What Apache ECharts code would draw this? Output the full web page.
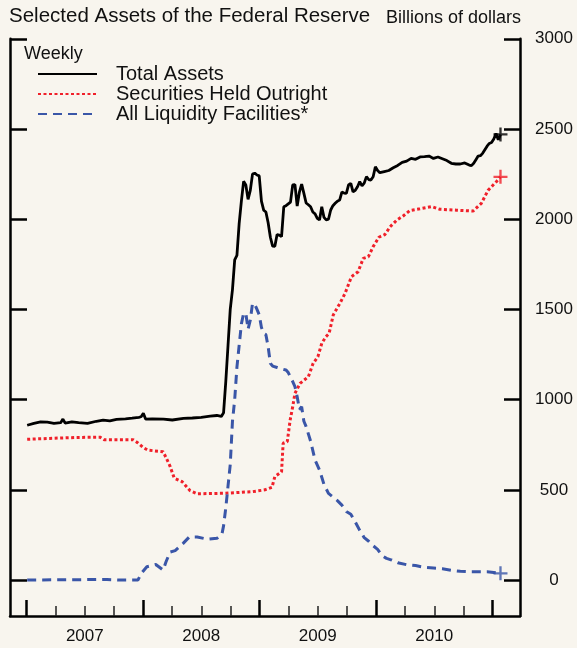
<!DOCTYPE html>
<html>
<head>
<meta charset="utf-8">
<script src="https://cdn.jsdelivr.net/npm/echarts@6/dist/echarts.min.js"></script>
<style>
  html, body { margin: 0; padding: 0; background: #f8f5ee; }
  #chart { width: 577px; height: 648px; }
</style>
</head>
<body>
<div id="chart"></div>
<script>
// weekly values, billions of dollars
var totalAssets = [
  ['2007-01-03',858],['2007-01-24',868],['2007-02-14',876],['2007-03-07',875],['2007-03-28',868],
  ['2007-04-18',872],['2007-04-25',892],['2007-05-02',870],['2007-05-23',877],['2007-06-13',872],
  ['2007-07-11',868],['2007-08-08',880],['2007-08-29',886],['2007-09-19',882],['2007-10-10',890],
  ['2007-11-07',893],['2007-11-28',897],['2007-12-19',902],['2007-12-26',905],['2008-01-02',924],
  ['2008-01-09',892],['2008-01-30',893],['2008-03-05',892],['2008-04-02',887],['2008-05-07',896],
  ['2008-06-04',898],['2008-07-02',902],['2008-07-30',908],['2008-08-20',912],['2008-09-03',907],
  ['2008-09-10',927],['2008-09-17',1100],['2008-09-24',1300],['2008-10-01',1500],['2008-10-08',1610],
  ['2008-10-15',1775],['2008-10-22',1800],['2008-10-29',1975],['2008-11-05',2100],['2008-11-12',2210],
  ['2008-11-19',2190],['2008-11-26',2110],['2008-12-03',2160],['2008-12-10',2250],['2008-12-17',2255],
  ['2008-12-24',2245],['2008-12-31',2240],['2009-01-07',2100],['2009-01-14',2050],['2009-01-21',2040],
  ['2009-01-28',1980],['2009-02-04',1900],['2009-02-11',1851],['2009-02-18',1850],['2009-02-25',1915],
  ['2009-03-04',1912],['2009-03-11',1903],['2009-03-18',2069],['2009-03-25',2075],['2009-04-01',2085],
  ['2009-04-08',2095],['2009-04-15',2190],['2009-04-22',2192],['2009-04-29',2073],['2009-05-06',2150],
  ['2009-05-13',2195],['2009-05-20',2143],['2009-05-27',2090],['2009-06-03',2080],['2009-06-10',2069],
  ['2009-06-17',2040],['2009-06-24',2030],['2009-07-01',2005],['2009-07-08',1996],['2009-07-15',2069],
  ['2009-07-22',2010],['2009-07-29',1996],['2009-08-05',2000],['2009-08-12',2051],['2009-08-19',2075],
  ['2009-08-26',2088],['2009-09-02',2100],['2009-09-09',2106],['2009-09-16',2150],['2009-09-23',2145],
  ['2009-09-30',2143],['2009-10-07',2190],['2009-10-14',2199],['2009-10-21',2152],['2009-10-28',2160],
  ['2009-11-04',2180],['2009-11-11',2208],['2009-11-18',2185],['2009-11-25',2200],['2009-12-02',2236],
  ['2009-12-09',2220],['2009-12-16',2217],['2009-12-23',2235],['2009-12-30',2291],['2010-01-06',2270],
  ['2010-01-13',2258],['2010-01-27',2264],['2010-02-10',2270],['2010-02-24',2285],['2010-03-10',2298],
  ['2010-03-24',2315],['2010-04-07',2322],['2010-04-21',2337],['2010-05-05',2332],['2010-05-19',2345],
  ['2010-06-02',2347],['2010-06-16',2350],['2010-06-30',2337],['2010-07-14',2345],['2010-07-28',2335],
  ['2010-08-11',2325],['2010-08-25',2310],['2010-09-08',2306],['2010-09-22',2306],['2010-10-06',2312],
  ['2010-10-20',2300],['2010-10-27',2297],['2010-11-03',2310],['2010-11-10',2330],['2010-11-17',2350],
  ['2010-11-24',2352],['2010-12-01',2365],['2010-12-08',2385],['2010-12-15',2405],['2010-12-22',2420],
  ['2010-12-29',2425],['2011-01-05',2445],['2011-01-12',2475],['2011-01-19',2440],['2011-01-26',2470]
];

var securities = [
  ['2007-01-03',780],['2007-03-15',785],['2007-06-02',790],['2007-08-19',792],['2007-09-01',778],
  ['2007-12-01',778],['2007-12-16',760],['2008-01-01',735],['2008-01-16',720],['2008-03-04',711],
  ['2008-03-13',680],['2008-03-26',630],['2008-04-08',565],['2008-05-03',545],['2008-05-28',495],
  ['2008-06-19',478],['2008-09-15',481],['2008-12-11',490],['2009-01-18',500],['2009-02-09',514],
  ['2009-02-18',573],['2009-03-11',600],['2009-03-16',758],['2009-03-29',767],['2009-04-07',887],
  ['2009-04-15',961],['2009-04-22',1035],['2009-05-08',1090],['2009-06-03',1127],['2009-06-18',1201],
  ['2009-07-03',1238],['2009-07-15',1312],['2009-07-28',1349],['2009-08-07',1367],['2009-08-20',1469],
  ['2009-09-10',1534],['2009-09-26',1589],['2009-10-16',1681],['2009-11-06',1709],['2009-11-22',1783],
  ['2009-12-08',1792],['2009-12-23',1848],['2010-01-10',1900],['2010-01-29',1915],['2010-02-14',1958],
  ['2010-03-07',1995],['2010-03-27',2018],['2010-04-17',2048],['2010-05-19',2058],['2010-06-24',2070],
  ['2010-07-20',2055],['2010-09-10',2050],['2010-11-01',2045],['2010-11-27',2088],['2010-12-18',2160],
  ['2011-01-13',2208],['2011-01-26',2235]
];

var liquidity = [
  ['2007-01-03',0],['2007-09-10',3],['2007-10-20',0],['2007-12-16',0],['2007-12-28',40],
  ['2008-01-13',74],['2008-02-10',86],['2008-03-04',55],['2008-03-13',100],['2008-03-26',155],
  ['2008-04-11',163],['2008-05-06',203],['2008-05-25',238],['2008-06-19',238],['2008-07-23',226],
  ['2008-08-20',231],['2008-09-05',255],['2008-09-10',300],['2008-09-17',400],['2008-09-24',520],
  ['2008-10-01',640],['2008-10-08',880],['2008-10-15',1000],['2008-10-22',1180],['2008-10-29',1300],
  ['2008-11-05',1420],['2008-11-12',1478],['2008-11-19',1478],['2008-11-26',1390],['2008-12-03',1440],
  ['2008-12-10',1534],['2008-12-17',1528],['2008-12-24',1500],['2008-12-31',1470],['2009-01-07',1400],
  ['2009-01-14',1367],['2009-01-21',1360],['2009-01-28',1293],['2009-02-04',1201],['2009-02-11',1186],
  ['2009-02-25',1178],['2009-03-11',1170],['2009-03-25',1164],['2009-04-01',1150],['2009-04-08',1125],
  ['2009-04-15',1100],['2009-04-22',1072],['2009-04-29',1016],['2009-05-06',945],['2009-05-13',960],
  ['2009-05-20',880],['2009-05-27',850],['2009-06-10',770],['2009-06-24',665],['2009-07-08',610],
  ['2009-07-22',530],['2009-08-05',480],['2009-08-19',460],['2009-09-02',440],['2009-09-16',415],
  ['2009-09-30',380],['2009-10-14',365],['2009-10-28',322],['2009-11-11',275],['2009-11-25',235],
  ['2009-12-09',215],['2009-12-23',190],['2010-01-06',170],['2010-01-20',135],['2010-02-03',120],
  ['2010-02-17',112],['2010-03-10',96],['2010-04-07',85],['2010-05-05',80],['2010-06-02',70],
  ['2010-06-30',66],['2010-07-28',62],['2010-08-25',54],['2010-09-22',48],['2010-10-20',46],
  ['2010-11-17',46],['2010-12-15',46],['2011-01-05',42],['2011-01-26',37]
];

var yearTicks = [2007, 2008, 2009, 2010, 2011];
var quarterTicks = [2007.25, 2007.5, 2007.75, 2008.25, 2008.5, 2008.75,
                    2009.25, 2009.5, 2009.75, 2010.25, 2010.5, 2010.75];
var yearLabels = [2007.5, 2008.5, 2009.5, 2010.5];
var valueTicks = [0, 500, 1000, 1500, 2000, 2500, 3000];

function toYear(s) {
  var p = s.split('-');
  var y = +p[0];
  var t = Date.UTC(y, +p[1] - 1, +p[2]);
  var a = Date.UTC(y, 0, 1), b = Date.UTC(y + 1, 0, 1);
  return y + (t - a) / (b - a);
}
function prep(arr) {
  return arr.map(function (d) { return [toYear(d[0]), d[1]]; });
}

var FONT = 'Liberation Sans, Arial, sans-serif';
var plus = 'path://M-1,-6H1V-1H6V1H1V6H-1V1H-6V-1H-1Z';
var xMin = 2006.858, xMax = 2011.236;

var chart = echarts.init(document.getElementById('chart'));

function lineSeries(name, arr, color, width, type) {
  return {
    name: name, type: 'line', data: prep(arr), symbol: 'none',
    lineStyle: { color: color, width: width, type: type },
    itemStyle: { color: color }
  };
}
function endMark(arr, color) {
  var d = prep(arr);
  return {
    type: 'scatter', data: [d[d.length - 1]], symbol: plus, symbolSize: 14,
    itemStyle: { color: color }, silent: true, z: 5
  };
}

chart.setOption({
  animation: false,
  backgroundColor: '#f8f5ee',
  textStyle: { fontFamily: FONT },
  title: [
    { text: 'Selected Assets of the Federal Reserve', left: 9, top: 6, padding: 0,
      textStyle: { fontSize: 20.5, fontWeight: 'normal', color: '#111', fontFamily: FONT } },
    { text: 'Billions of dollars', left: 386, top: 9, padding: 0,
      textStyle: { fontSize: 18, fontWeight: 'normal', color: '#111', fontFamily: FONT } },
    { text: 'Weekly', left: 24, top: 45, padding: 0,
      textStyle: { fontSize: 18, fontWeight: 'normal', color: '#111', fontFamily: FONT } }
  ],
  legend: {
    data: ['Total Assets', 'Securities Held Outright', 'All Liquidity Facilities*'],
    orient: 'vertical', left: 37, top: 64, padding: 0,
    itemWidth: 59, itemHeight: 12, itemGap: 0,
    itemStyle: { opacity: 0 },
    textStyle: { fontSize: 20, lineHeight: 19, color: '#111', fontFamily: FONT, padding: [0, 0, 0, 14] }
  },
  grid: { left: 10, right: 57, top: 38.8, bottom: 31.9 },
  xAxis: [
    {
      type: 'value', min: xMin, max: xMax, position: 'bottom', offset: 0,
      axisLine: { onZero: false, lineStyle: { color: '#000', width: 2.5 } },
      axisTick: { customValues: yearTicks, inside: true, length: 16, lineStyle: { color: '#000', width: 2.5 } },
      axisLabel: { customValues: yearLabels, formatter: function (v) { return String(Math.floor(v)); },
                   fontSize: 17, color: '#111', margin: 12, fontFamily: FONT },
      splitLine: { show: false }
    },
    {
      type: 'value', min: xMin, max: xMax, position: 'bottom', offset: 0,
      axisLine: { show: false, onZero: false },
      axisTick: { customValues: quarterTicks, inside: true, length: 10, lineStyle: { color: '#222', width: 1.5 } },
      axisLabel: { show: false },
      splitLine: { show: false }
    }
  ],
  yAxis: [
    {
      type: 'value', min: -200, max: 3000, position: 'right',
      axisLine: { show: true, onZero: false, lineStyle: { color: '#000', width: 2.5 } },
      axisTick: { customValues: valueTicks, inside: true, length: 16, lineStyle: { color: '#000', width: 2.5 } },
      axisLabel: { customValues: valueTicks, formatter: function (v) { return String(v); },
                   align: 'center', margin: 34, fontSize: 17, color: '#111', fontFamily: FONT },
      splitLine: { show: false }
    },
    {
      type: 'value', min: -200, max: 3000, position: 'left',
      axisLine: { show: true, onZero: false, lineStyle: { color: '#000', width: 2.5 } },
      axisTick: { customValues: valueTicks, inside: true, length: 17, lineStyle: { color: '#000', width: 2.5 } },
      axisLabel: { show: false },
      splitLine: { show: false }
    }
  ],
  series: [
    lineSeries('Total Assets', totalAssets, '#000000', 2.8, 'solid'),
    lineSeries('Securities Held Outright', securities, '#f0202a', 3, [3, 2.5]),
    lineSeries('All Liquidity Facilities*', liquidity, '#3a56a8', 3, [9, 6]),
    endMark(totalAssets, '#000000'),
    endMark(securities, '#f0202a'),
    endMark(liquidity, '#3a56a8')
  ]
});
</script>
</body>
</html>
